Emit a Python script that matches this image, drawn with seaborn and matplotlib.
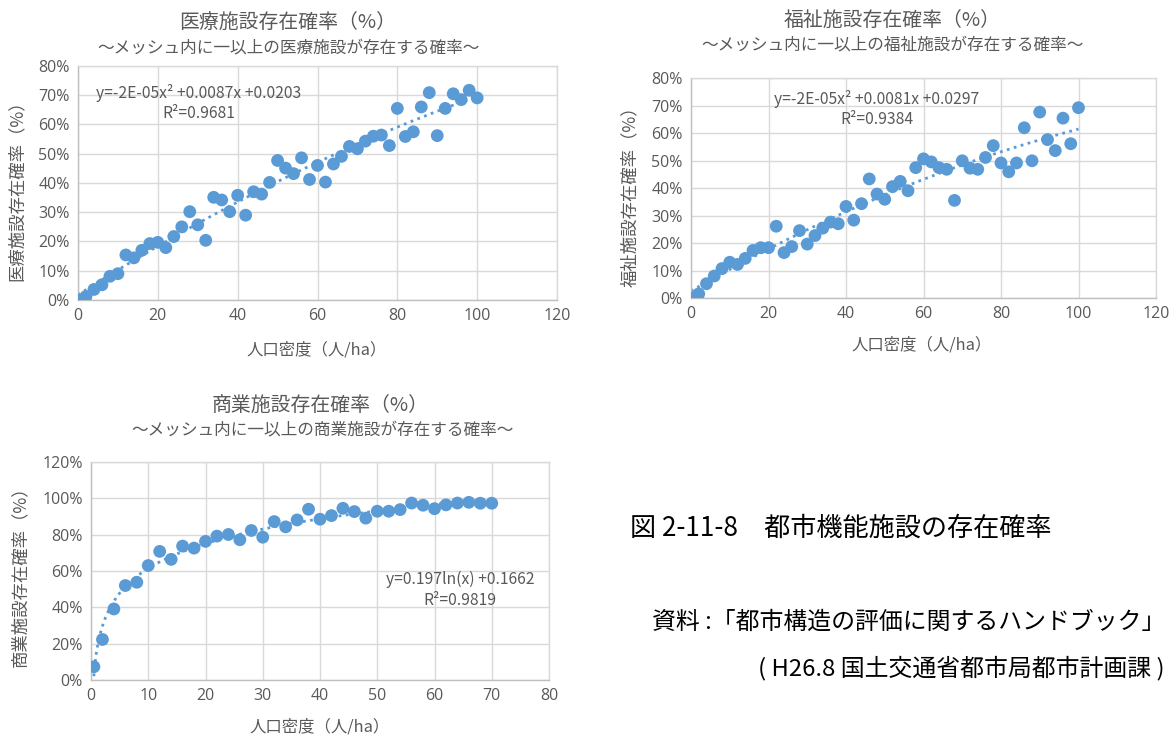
import numpy as np
import pandas as pd
import matplotlib
matplotlib.use("Agg")
import matplotlib.pyplot as plt
from matplotlib.ticker import PercentFormatter
import seaborn as sns

sns.set_theme(style="white")
plt.rcParams['font.family'] = ['Noto Sans CJK JP', 'DejaVu Sans']

# ---------------- data ----------------
med_x = [0.5] + list(range(2, 101, 2))
med_y = [0.0, 1.2, 3.6, 5.2, 8.1, 9.0, 15.4, 14.4, 17.0, 19.3, 19.7, 17.9, 21.7, 25.0,
         30.2, 25.7, 20.4, 35.1, 34.2, 30.2, 35.8, 29.0, 37.0, 36.2, 40.2, 47.7, 45.1,
         43.2, 48.6, 41.2, 46.0, 40.3, 46.5, 49.1, 52.5, 51.7, 54.3, 56.0, 56.4, 52.8,
         65.5, 55.9, 57.5, 66.0, 70.9, 56.2, 65.5, 70.5, 68.5, 71.7, 69.1]

wel_x = [0.5] + list(range(2, 101, 2))
wel_y = [0.0, 1.5, 5.2, 8.0, 10.7, 13.0, 12.2, 14.4, 17.3, 18.3, 18.3, 26.1, 16.5, 18.7,
         24.5, 19.6, 22.7, 25.4, 27.6, 27.0, 33.3, 28.3, 34.3, 43.3, 37.8, 35.9, 40.5,
         42.4, 39.0, 47.4, 50.6, 49.5, 47.4, 46.8, 35.5, 49.9, 47.2, 46.8, 51.1, 55.4,
         49.1, 45.9, 49.1, 61.9, 49.9, 67.6, 57.6, 53.6, 65.4, 56.1, 69.2]

com_x = [0.5] + list(range(2, 71, 2))
com_y = [7.3, 22.3, 39.1, 52.0, 53.8, 63.0, 70.8, 66.4, 73.7, 72.6, 76.3, 79.2, 80.1,
         77.2, 82.3, 78.6, 87.2, 84.3, 88.1, 94.0, 88.5, 90.5, 94.5, 92.7, 89.1, 92.9,
         92.9, 93.8, 97.4, 96.2, 94.3, 96.4, 97.4, 97.8, 97.3, 97.3]

titles = ["医療施設存在確率（%）", "福祉施設存在確率（%）", "商業施設存在確率（%）"]
subtitles = ["～メッシュ内に一以上の医療施設が存在する確率～",
             "～メッシュ内に一以上の福祉施設が存在する確率～",
             "～メッシュ内に一以上の商業施設が存在する確率～"]
ylabels = ["医療施設存在確率（%）", "福祉施設存在確率（%）", "商業施設存在確率（%）"]
xlabel = "人口密度（人/ha）"
equations = ["y=-2E-05x² +0.0087x +0.0203\nR²=0.9681",
             "y=-2E-05x² +0.0081x +0.0297\nR²=0.9384",
             "y=0.197ln(x) +0.1662\nR²=0.9819"]
fig_caption = "図 2-11-8　都市機能施設の存在確率"
source1 = "資料 :「都市構造の評価に関するハンドブック」"
source2 = "( H26.8 国土交通省都市局都市計画課 )"

# ---------------- style ----------------
W, H = 1170, 736
BLUE = "#5B9BD5"
GRID = "#D9D9D9"
TXT = "#595959"

fig = plt.figure(figsize=(W / 100, H / 100), dpi=100)
fig.patch.set_facecolor("white")


def rect(l, r, t, b):
    return [l / W, 1 - b / H, (r - l) / W, (b - t) / H]


def ftext(x, y, s, **kw):
    fig.text(x / W, 1 - y / H, s, **kw)


def setup(ax, xmax, xstep, ymax, ystep):
    ax.set_xlim(0, xmax)
    ax.set_ylim(0, ymax)
    ax.set_xticks(np.arange(0, xmax + 0.1, xstep))
    ax.set_yticks(np.arange(0, ymax + 0.1, ystep))
    ax.yaxis.set_major_formatter(PercentFormatter(decimals=0))
    ax.grid(True, color=GRID, linewidth=1.0)
    ax.set_axisbelow(True)
    for s in ax.spines.values():
        s.set_color(GRID)
        s.set_linewidth(1.0)
    ax.spines['left'].set_color("#BFBFBF")
    ax.spines['bottom'].set_color("#BFBFBF")
    ax.tick_params(axis='both', length=0, labelsize=11.5, colors=TXT, pad=6)
    ax.set_xlabel("")
    ax.set_ylabel("")
    for lab in ax.get_xticklabels() + ax.get_yticklabels():
        lab.set_family(['Open Sans', 'DejaVu Sans'])


def draw(ax, xs, ys, kind):
    df = pd.DataFrame({"x": xs, "y": ys})
    if kind == "poly":
        c = np.polyfit(df["x"], df["y"], 2)
        tx = np.linspace(0, max(xs), 200)
        ty = np.polyval(c, tx)
    else:
        c = np.polyfit(np.log(df["x"]), df["y"], 1)
        tx = np.linspace(min(xs) * 0.8, max(xs), 400)
        ty = c[0] * np.log(tx) + c[1]
    tdf = pd.DataFrame({"x": tx, "y": ty})
    sns.lineplot(data=tdf, x="x", y="y", ax=ax, color=BLUE, linewidth=2.0,
                 linestyle=(0, (1, 1.6)), zorder=2)
    sns.scatterplot(data=df, x="x", y="y", ax=ax, color=BLUE, s=85,
                    edgecolor="none", linewidth=0, zorder=3)


# chart 1: medical
ax1 = fig.add_axes(rect(78, 557, 66, 300))
draw(ax1, med_x, med_y, "poly")
setup(ax1, 120, 20, 80, 10)

# chart 2: welfare
ax2 = fig.add_axes(rect(691, 1156, 78, 298))
draw(ax2, wel_x, wel_y, "poly")
setup(ax2, 120, 20, 80, 10)

# chart 3: commercial
ax3 = fig.add_axes(rect(91, 549, 462, 680))
draw(ax3, com_x, com_y, "log")
setup(ax3, 80, 10, 120, 20)

# titles / labels
tkw = dict(ha="center", va="center", color=TXT)
TS, SS, XS, YS, ES = 14.3, 12.0, 11.8, 12.5, 11.3

ftext(288, 22, titles[0], fontsize=TS, **tkw)
ftext(288, 48, subtitles[0], fontsize=SS, **tkw)
ftext(317, 350, xlabel, fontsize=XS, **tkw)
ftext(17, 186, ylabels[0], fontsize=YS, rotation=90, **tkw)
ftext(199, 103, equations[0], fontsize=ES, linespacing=1.3, **tkw)

ftext(892, 20, titles[1], fontsize=TS, **tkw)
ftext(892, 45, subtitles[1], fontsize=SS, **tkw)
ftext(922, 345, xlabel, fontsize=XS, **tkw)
ftext(630, 192, ylabels[1], fontsize=YS, rotation=90, **tkw)
ftext(877, 109, equations[1], fontsize=ES, linespacing=1.3, **tkw)

ftext(320, 405, titles[2], fontsize=TS, **tkw)
ftext(322, 430, subtitles[2], fontsize=SS, **tkw)
ftext(320, 727, xlabel, fontsize=XS, **tkw)
ftext(20, 572, ylabels[2], fontsize=YS, rotation=90, **tkw)
ftext(460, 590, equations[2], fontsize=ES, linespacing=1.3, **tkw)

ftext(630, 528, fig_caption, fontsize=18.8, ha="left", va="center", color="black")
ftext(1165, 622, source1, fontsize=17.2, ha="right", va="center", color="black")
ftext(1165, 668, source2, fontsize=17.2, ha="right", va="center", color="black")

fig.savefig("out.png", dpi=100, facecolor="white")
